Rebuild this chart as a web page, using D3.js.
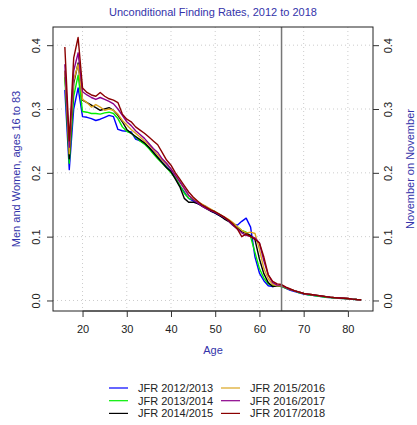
<!DOCTYPE html>
<html>
<head>
<meta charset="utf-8">
<script src="https://cdn.jsdelivr.net/npm/d3@7"></script>
<style>
  body { margin: 0; background: #fff; }
  svg { display: block; font-family: "Liberation Sans", Arial, sans-serif; }
</style>
</head>
<body>
<svg id="chart" width="417" height="425"></svg>
<script>
const ages = d3.range(16, 84);

const seriesNames = ["JFR 2012/2013", "JFR 2013/2014", "JFR 2014/2015", "JFR 2015/2016", "JFR 2016/2017", "JFR 2017/2018"];
const seriesColors = ["#0000ff", "#00ee00", "#000000", "#daa520", "#8b008b", "#8b0000"];

const jfr2012 = [0.330, 0.205, 0.300, 0.333, 0.288, 0.287, 0.285, 0.282, 0.284, 0.287, 0.290, 0.288, 0.268, 0.266,
  0.265, 0.264, 0.253, 0.250, 0.246, 0.240, 0.233, 0.225, 0.217, 0.210, 0.203, 0.192, 0.180, 0.170, 0.160, 0.156,
  0.152, 0.150, 0.147, 0.140, 0.137, 0.133, 0.130, 0.125, 0.120, 0.118, 0.124, 0.129, 0.115, 0.068, 0.043, 0.031,
  0.023, 0.022, 0.023, 0.022, 0.019, 0.016, 0.014, 0.012, 0.010, 0.009, 0.008, 0.007, 0.006, 0.005, 0.0045, 0.004,
  0.0035, 0.003, 0.0025, 0.002, 0.0015, 0.0012];
const jfr2013 = [0.350, 0.215, 0.320, 0.353, 0.296, 0.295, 0.293, 0.293, 0.292, 0.294, 0.295, 0.293, 0.285, 0.272,
  0.265, 0.262, 0.256, 0.250, 0.245, 0.238, 0.230, 0.222, 0.215, 0.208, 0.200, 0.192, 0.180, 0.168, 0.160, 0.158,
  0.154, 0.150, 0.146, 0.142, 0.139, 0.135, 0.130, 0.126, 0.120, 0.115, 0.110, 0.107, 0.100, 0.075, 0.050, 0.035,
  0.026, 0.023, 0.023, 0.022, 0.019, 0.017, 0.015, 0.012, 0.011, 0.009, 0.008, 0.007, 0.006, 0.005, 0.0045, 0.004,
  0.0035, 0.003, 0.0025, 0.002, 0.0015, 0.0012];
const jfr2014 = [0.360, 0.222, 0.340, 0.372, 0.314, 0.310, 0.306, 0.302, 0.298, 0.300, 0.302, 0.298, 0.290, 0.280,
  0.268, 0.262, 0.257, 0.252, 0.247, 0.240, 0.232, 0.224, 0.216, 0.208, 0.202, 0.190, 0.178, 0.160, 0.154, 0.154,
  0.152, 0.148, 0.144, 0.140, 0.137, 0.133, 0.128, 0.124, 0.118, 0.113, 0.108, 0.105, 0.102, 0.095, 0.065, 0.042,
  0.028, 0.022, 0.023, 0.023, 0.020, 0.017, 0.015, 0.013, 0.011, 0.010, 0.009, 0.008, 0.007, 0.006, 0.005, 0.0045,
  0.004, 0.0035, 0.003, 0.0022, 0.0016, 0.0012];
const jfr2015 = [0.360, 0.230, 0.345, 0.370, 0.315, 0.310, 0.303, 0.307, 0.303, 0.298, 0.300, 0.298, 0.292, 0.282,
  0.275, 0.268, 0.262, 0.256, 0.250, 0.244, 0.236, 0.228, 0.220, 0.213, 0.206, 0.196, 0.186, 0.175, 0.164, 0.160,
  0.155, 0.151, 0.147, 0.143, 0.139, 0.135, 0.131, 0.127, 0.122, 0.116, 0.110, 0.106, 0.107, 0.105, 0.080, 0.050,
  0.034, 0.025, 0.023, 0.023, 0.020, 0.017, 0.015, 0.013, 0.011, 0.010, 0.009, 0.008, 0.007, 0.006, 0.005, 0.0045,
  0.004, 0.0035, 0.003, 0.0022, 0.0016, 0.0012];
const jfr2016 = [0.370, 0.240, 0.360, 0.388, 0.327, 0.322, 0.318, 0.315, 0.318, 0.315, 0.312, 0.308, 0.300, 0.290,
  0.280, 0.274, 0.266, 0.260, 0.254, 0.246, 0.238, 0.232, 0.222, 0.215, 0.206, 0.196, 0.186, 0.176, 0.165, 0.158,
  0.153, 0.148, 0.144, 0.141, 0.138, 0.134, 0.130, 0.125, 0.118, 0.112, 0.106, 0.102, 0.100, 0.098, 0.090, 0.062,
  0.040, 0.028, 0.024, 0.024, 0.020, 0.017, 0.015, 0.013, 0.011, 0.010, 0.009, 0.008, 0.007, 0.006, 0.005, 0.0045,
  0.004, 0.0035, 0.003, 0.0022, 0.0016, 0.0012];
const jfr2017 = [0.397, 0.250, 0.380, 0.412, 0.333, 0.326, 0.322, 0.320, 0.326, 0.320, 0.316, 0.314, 0.310, 0.292,
  0.284, 0.280, 0.272, 0.267, 0.262, 0.256, 0.250, 0.244, 0.232, 0.220, 0.212, 0.200, 0.190, 0.180, 0.170, 0.162,
  0.156, 0.150, 0.146, 0.142, 0.139, 0.135, 0.131, 0.126, 0.120, 0.112, 0.100, 0.104, 0.100, 0.096, 0.090, 0.068,
  0.040, 0.030, 0.026, 0.025, 0.021, 0.018, 0.015, 0.013, 0.011, 0.010, 0.009, 0.008, 0.007, 0.006, 0.005, 0.0045,
  0.004, 0.0035, 0.003, 0.0022, 0.0016, 0.0012];

const seriesValues = [jfr2012, jfr2013, jfr2014, jfr2015, jfr2016, jfr2017];

const xTicks = [20, 30, 40, 50, 60, 70, 80];
const yTicks = [0.0, 0.1, 0.2, 0.3, 0.4];
const cutoffAge = 65;

const svg = d3.select("#chart");
const box = {left: 53, right: 373, top: 27, bottom: 311};
const labelColor = "#3333aa";

// R style 4% padding on both sides
const xPad = (83 - 16) * 0.04;
const yMax = d3.max(seriesValues.flat());
const yPad = yMax * 0.04;

const x = d3.scaleLinear().domain([16 - xPad, 83 + xPad]).range([box.left, box.right]);
const y = d3.scaleLinear().domain([0 - yPad, yMax + yPad]).range([box.bottom, box.top]);

// grid
const grid = svg.append("g").attr("stroke", "#cccccc").attr("stroke-dasharray", "1,3").attr("stroke-width", 1);
grid.selectAll(".gx").data(xTicks).join("line")
    .attr("x1", d => x(d)).attr("x2", d => x(d))
    .attr("y1", box.top).attr("y2", box.bottom);
grid.selectAll(".gy").data(yTicks).join("line")
    .attr("x1", box.left).attr("x2", box.right)
    .attr("y1", d => y(d)).attr("y2", d => y(d));

// lines
const line = d3.line().x((d, i) => x(ages[i])).y(d => y(d));
svg.append("g").selectAll("path")
    .data(seriesValues)
    .join("path")
    .attr("fill", "none")
    .attr("stroke", (d, i) => seriesColors[i])
    .attr("stroke-width", 1.4)
    .attr("stroke-linejoin", "round")
    .attr("d", line);

// cutoff line
svg.append("line")
    .attr("x1", x(cutoffAge)).attr("x2", x(cutoffAge))
    .attr("y1", box.top).attr("y2", box.bottom)
    .attr("stroke", "#777").attr("stroke-width", 1.5);

// box
svg.append("rect")
    .attr("x", box.left).attr("y", box.top)
    .attr("width", box.right - box.left).attr("height", box.bottom - box.top)
    .attr("fill", "none").attr("stroke", "#222").attr("stroke-width", 1);

// axes
const xAxis = svg.append("g")
    .attr("transform", `translate(0,${box.bottom})`)
    .call(d3.axisBottom(x).tickValues(xTicks).tickSize(6).tickPadding(8).tickSizeOuter(0));
const yLeft = svg.append("g")
    .attr("transform", `translate(${box.left},0)`)
    .call(d3.axisLeft(y).tickValues(yTicks).tickFormat(d3.format(".1f")).tickSize(6).tickSizeOuter(0));
const yRight = svg.append("g")
    .attr("transform", `translate(${box.right},0)`)
    .call(d3.axisRight(y).tickValues(yTicks).tickFormat(d3.format(".1f")).tickSize(6).tickSizeOuter(0));

[xAxis, yLeft, yRight].forEach(g => {
    g.select(".domain").remove();
    g.selectAll(".tick line").attr("stroke", "#333");
    g.selectAll("text").attr("font-size", 11).attr("fill", "#222").attr("font-family", "Liberation Sans, Arial, sans-serif");
});
xAxis.append("line").attr("x1", x(20)).attr("x2", x(80)).attr("stroke", "#333");

yLeft.selectAll(".tick text")
    .attr("x", null).attr("dy", null)
    .attr("text-anchor", "middle")
    .attr("transform", "translate(-13,0) rotate(-90)");
yRight.selectAll(".tick text")
    .attr("x", null).attr("dy", null)
    .attr("text-anchor", "middle")
    .attr("transform", "translate(19,0) rotate(-90)");

// titles
svg.append("text")
    .attr("x", (box.left + box.right) / 2).attr("y", 16)
    .attr("text-anchor", "middle").attr("font-size", 11).attr("fill", labelColor)
    .text("Unconditional Finding Rates, 2012 to 2018");
svg.append("text")
    .attr("x", (box.left + box.right) / 2).attr("y", 354)
    .attr("text-anchor", "middle").attr("font-size", 11).attr("fill", labelColor)
    .text("Age");
svg.append("text")
    .attr("transform", `translate(20,${(box.top + box.bottom) / 2}) rotate(-90)`)
    .attr("text-anchor", "middle").attr("font-size", 11).attr("fill", labelColor)
    .text("Men and Women, ages 16 to 83");
svg.append("text")
    .attr("transform", `translate(414,${(box.top + box.bottom) / 2}) rotate(-90)`)
    .attr("text-anchor", "middle").attr("font-size", 11).attr("fill", labelColor)
    .text("November on November");

// legend
const legend = svg.append("g").selectAll("g")
    .data(seriesNames)
    .join("g")
    .attr("transform", (d, i) => `translate(${i < 3 ? 109 : 221},${388 + (i % 3) * 12.7})`);
legend.append("line")
    .attr("x1", 0).attr("x2", 19)
    .attr("stroke", (d, i) => seriesColors[i]).attr("stroke-width", 1.2);
legend.append("text")
    .attr("x", 29).attr("dy", "0.35em")
    .attr("font-size", 11).attr("fill", "#222")
    .text(d => d);
</script>
</body>
</html>
